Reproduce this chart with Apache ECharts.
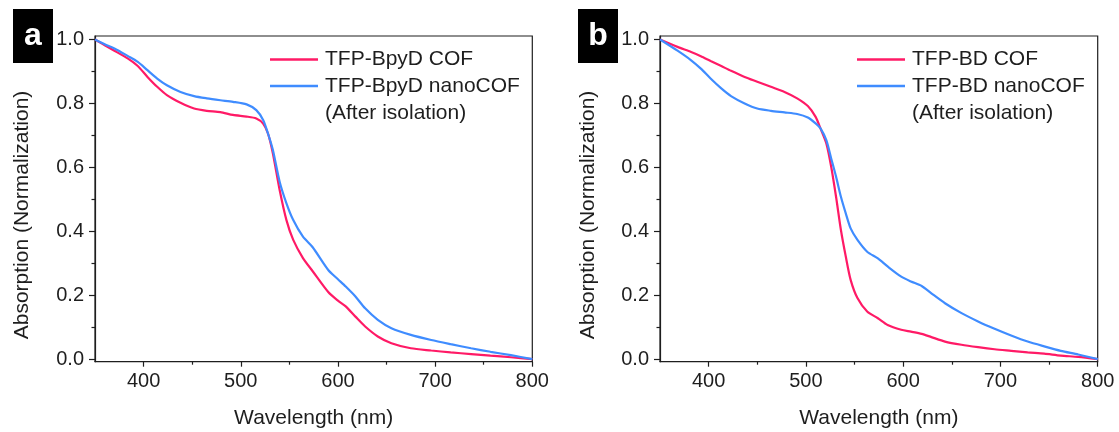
<!DOCTYPE html>
<html>
<head>
<meta charset="utf-8">
<title>Absorption spectra</title>
<script src="https://cdn.jsdelivr.net/npm/echarts@6/dist/echarts.min.js"></script>
<style>
	html, body { margin: 0; padding: 0; background: #fff; }
	#main { width: 1119px; height: 432px; }
</style>
</head>
<body>
<div id="main"></div>
<script>
// panel a : TFP-BpyD
var wlA = [350, 360, 370, 384, 394, 404, 414, 424, 438, 452, 465, 479, 492, 506, 516, 523, 528, 533, 540, 547,
	554, 564, 574, 590, 600, 608, 618, 628, 641, 655, 675, 696, 716, 737, 757, 778, 800];
var cofA = [1.0, 0.982, 0.965, 0.94, 0.917, 0.883, 0.852, 0.826, 0.802, 0.784, 0.777, 0.773, 0.764, 0.759, 0.753, 0.737, 0.706, 0.644, 0.529, 0.435,
	0.373, 0.316, 0.275, 0.21, 0.183, 0.165, 0.133, 0.102, 0.071, 0.05, 0.034, 0.027, 0.021, 0.016, 0.011, 0.006, 0];
var nanoA = [1.0, 0.985, 0.972, 0.948, 0.93, 0.904, 0.878, 0.857, 0.836, 0.823, 0.816, 0.81, 0.805, 0.797, 0.779, 0.748, 0.706, 0.655, 0.555, 0.4875,
	0.435, 0.383, 0.35, 0.279, 0.25, 0.227, 0.196, 0.159, 0.123, 0.097, 0.076, 0.06, 0.047, 0.034, 0.023, 0.0125, 0];

// panel b : TFP-BD
var wlB = [350, 368, 382, 392, 402, 413, 423, 437, 450, 464, 478, 491, 502, 510, 515, 521, 526, 531, 536, 541,
	546, 553, 563, 574, 584, 598, 608, 619, 629, 643, 660, 677, 694, 711, 728, 745, 762, 780, 800];
var cofB = [1.0, 0.977, 0.961, 0.948, 0.933, 0.917, 0.902, 0.883, 0.868, 0.852, 0.836, 0.816, 0.792, 0.758, 0.722, 0.675, 0.602, 0.508, 0.404, 0.321,
	0.248, 0.191, 0.149, 0.128, 0.107, 0.092, 0.086, 0.079, 0.069, 0.055, 0.045, 0.0375, 0.031, 0.026, 0.021, 0.017, 0.011, 0.007, 0];
var nanoB = [1.0, 0.965, 0.935, 0.909, 0.878, 0.847, 0.823, 0.8, 0.784, 0.777, 0.772, 0.767, 0.756, 0.7375, 0.722, 0.685, 0.628, 0.571, 0.508, 0.456,
	0.409, 0.373, 0.336, 0.315, 0.29, 0.258, 0.243, 0.229, 0.206, 0.175, 0.144, 0.118, 0.095, 0.074, 0.055, 0.04, 0.026, 0.0146, 0];

var namesA = ['TFP-BpyD COF', 'TFP-BpyD nanoCOF'];
var namesB = ['TFP-BD COF', 'TFP-BD nanoCOF'];

var xTicks = [400, 500, 600, 700, 800];
var xMinor = [450, 550, 650, 750];
var yTicks = [0, 0.2, 0.4, 0.6, 0.8, 1.0];
var yMinor = [0.1, 0.3, 0.5, 0.7, 0.9];

var FONT = '"Liberation Sans", Arial, Helvetica, sans-serif';
var INK = '#1e1e1e';
var PINK = '#ff1a66';
var BLUE = '#3f8cff';

function zip(xs, ys) {
	var out = [];
	for (var i = 0; i < xs.length; i++) {
		out.push([xs[i], ys[i]]);
	}
	return out;
}

function xMain(grid) {
	return {
		type: 'value', gridIndex: grid, min: 350, max: 800, position: 'bottom',
		name: 'Wavelength (nm)', nameLocation: 'middle', nameGap: 46,
		nameTextStyle: { fontFamily: FONT, fontSize: 21, color: INK },
		axisLine: { show: true, onZero: false, lineStyle: { color: INK, width: 1.2 } },
		axisTick: { show: true, customValues: xTicks, length: 5, lineStyle: { color: INK, width: 1.2 } },
		axisLabel: { customValues: xTicks, margin: 10, fontFamily: FONT, fontSize: 20, color: INK },
		splitLine: { show: false }
	};
}
function xSub(grid) {
	return {
		type: 'value', gridIndex: grid, min: 350, max: 800, position: 'bottom',
		axisLine: { show: false, onZero: false },
		axisTick: { show: true, customValues: xMinor, length: 3, lineStyle: { color: INK, width: 1.2 } },
		axisLabel: { show: false },
		splitLine: { show: false }
	};
}
function yMain(grid) {
	return {
		type: 'value', gridIndex: grid, min: -0.008, max: 1.011, position: 'left',
		axisLine: { show: true, onZero: false, lineStyle: { color: INK, width: 1.2 } },
		axisTick: { show: true, customValues: yTicks, length: 6, lineStyle: { color: INK, width: 1.2 } },
		axisLabel: {
			customValues: yTicks, margin: 11, fontFamily: FONT, fontSize: 20, color: INK,
			formatter: function (v) { return v.toFixed(1); }
		},
		splitLine: { show: false }
	};
}
function ySub(grid) {
	return {
		type: 'value', gridIndex: grid, min: -0.008, max: 1.011, position: 'left',
		axisLine: { show: false, onZero: false },
		axisTick: { show: true, customValues: yMinor, length: 3.5, lineStyle: { color: INK, width: 1.2 } },
		axisLabel: { show: false },
		splitLine: { show: false }
	};
}
function curve(name, xi, yi, pts, color) {
	return {
		name: name, type: 'line', xAxisIndex: xi, yAxisIndex: yi,
		data: pts, symbol: 'none', showSymbol: false,
		smooth: 0.25,
		lineStyle: { color: color, width: 2.2 }, itemStyle: { color: color },
		z: 3
	};
}
function legendFor(names, left) {
	return {
		data: names, orient: 'vertical', left: left, top: 49, padding: 0,
		itemWidth: 48, itemHeight: 2.5, itemGap: 5.5, icon: 'rect',
		textStyle: { fontFamily: FONT, fontSize: 21, color: INK, padding: [0, 0, 0, 2] }
	};
}
function panelTag(letter, x) {
	return [
		{ type: 'rect', left: x, top: 9, shape: { width: 40, height: 54 }, style: { fill: '#000' } },
		{
			type: 'text', x: x + 20, y: 36,
			style: { text: letter, fill: '#fff', font: 'bold 32px ' + FONT, align: 'center', verticalAlign: 'middle' }
		}
	];
}
function yName(x) {
	return {
		type: 'text', x: x, y: 215, rotation: Math.PI / 2,
		style: {
			text: 'Absorption (Normalization)', fill: INK, font: '21px ' + FONT,
			align: 'center', verticalAlign: 'middle'
		}
	};
}
function note(x) {
	return {
		type: 'text', x: x, y: 113,
		style: { text: '(After isolation)', fill: INK, font: '21px ' + FONT, align: 'left', verticalAlign: 'middle' }
	};
}

var myChart = echarts.init(document.getElementById('main'), null, { renderer: 'canvas' });

var option = {
	backgroundColor: '#fff',
	animation: false,
	grid: [
		{ left: 95, right: 586.7, top: 36, bottom: 70.3, outerBoundsMode: 'none', containLabel: false,
			show: true, borderColor: INK, borderWidth: 1.2, backgroundColor: 'transparent' },
		{ left: 660, right: 21.3, top: 36, bottom: 70.3, outerBoundsMode: 'none', containLabel: false,
			show: true, borderColor: INK, borderWidth: 1.2, backgroundColor: 'transparent' }
	],
	xAxis: [xMain(0), xSub(0), xMain(1), xSub(1)],
	yAxis: [yMain(0), ySub(0), yMain(1), ySub(1)],
	legend: [legendFor(namesA, 270), legendFor(namesB, 857)],
	graphic: [].concat(
		panelTag('a', 13),
		panelTag('b', 578),
		[yName(22), yName(588), note(325), note(912)]
	),
	series: [
		curve(namesA[0], 0, 0, zip(wlA, cofA), PINK),
		curve(namesA[1], 0, 0, zip(wlA, nanoA), BLUE),
		curve(namesB[0], 2, 2, zip(wlB, cofB), PINK),
		curve(namesB[1], 2, 2, zip(wlB, nanoB), BLUE)
	]
};

if (option)
	myChart.setOption(option);
</script>
</body>
</html>
